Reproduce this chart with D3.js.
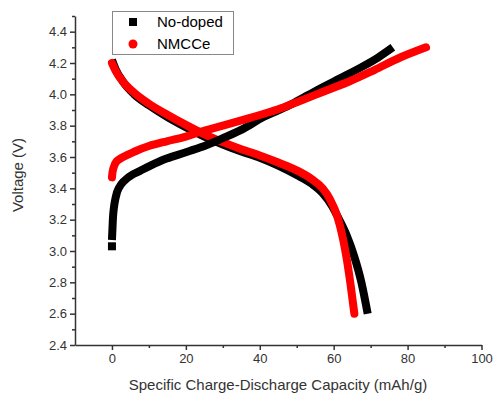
<!DOCTYPE html>
<html>
<head>
<meta charset="utf-8">
<script src="https://cdn.jsdelivr.net/npm/d3@7"></script>
<style>
body { margin: 0; background: #fff; }
text { font-family: "Liberation Sans", Arial, sans-serif; }
</style>
</head>
<body>
<svg id="chart" width="496" height="396"></svg>
<script>
// capacity (mAh/g) and voltage (V)
var noDopedChargeCap = [0, 0, 0.15, 0.4, 0.9, 1.8, 3, 5.7, 7.5, 10, 14.8, 20, 23.8, 30, 34.7, 41, 48, 50, 55, 62, 68, 72, 76];
var noDopedChargeV   = [3.03, 3.07, 3.15, 3.25, 3.33, 3.40, 3.44, 3.49, 3.51, 3.54, 3.59, 3.63, 3.66, 3.72, 3.77, 3.855, 3.93, 3.955, 4.02, 4.105, 4.18, 4.235, 4.30];
var nmcceChargeCap = [0, 0.3, 1.2, 3, 5.7, 10, 14.8, 20, 23.8, 30, 37.4, 45, 50, 57, 64.5, 71, 78, 85];
var nmcceChargeV   = [3.47, 3.52, 3.57, 3.60, 3.63, 3.67, 3.70, 3.73, 3.76, 3.80, 3.85, 3.905, 3.95, 4.015, 4.085, 4.155, 4.235, 4.30];
var noDopedDischCap = [0, 1, 3, 6, 10, 15, 20, 25, 30, 35, 40, 45, 50, 54, 57, 59.5, 61.5, 63.5, 65.5, 67.5, 69.2];
var noDopedDischV   = [4.22, 4.16, 4.08, 4.00, 3.93, 3.855, 3.79, 3.73, 3.68, 3.635, 3.595, 3.545, 3.485, 3.43, 3.37, 3.29, 3.20, 3.10, 2.97, 2.80, 2.60];
var nmcceDischCap = [0, 1, 3, 6, 10, 15, 20, 25, 30, 35, 40, 45, 50, 54, 57, 59, 61, 62.5, 63.6, 64.6, 65.6];
var nmcceDischV   = [4.20, 4.15, 4.08, 4.01, 3.94, 3.87, 3.805, 3.745, 3.695, 3.65, 3.61, 3.565, 3.515, 3.46, 3.40, 3.33, 3.22, 3.08, 2.94, 2.78, 2.60];

var xTicks = [0, 20, 40, 60, 80, 100];
var yTicks = [2.4, 2.6, 2.8, 3.0, 3.2, 3.4, 3.6, 3.8, 4.0, 4.2, 4.4];
var seriesNames = ["No-doped", "NMCCe"];
var seriesColors = ["#000000", "#ff0000"];

var svg = d3.select("#chart");

var x = d3.scaleLinear().domain([-10, 100]).range([75, 481.5]);
var y = d3.scaleLinear().domain([2.4, 4.5]).range([345, 16]);

function pts(cap, v) {
    return cap.map(function(c, i) { return [c, v[i]]; });
}

var chargeLine = d3.line()
    .x(function(d) { return x(d[0]); })
    .y(function(d) { return y(d[1]); })
    .curve(d3.curveMonotoneY);
var dischLine = d3.line()
    .x(function(d) { return x(d[0]); })
    .y(function(d) { return y(d[1]); })
    .curve(d3.curveMonotoneX);

var plot = svg.append("g");

// discharge curves (black under red)
plot.append("path")
    .attr("d", dischLine(pts(noDopedDischCap, noDopedDischV)))
    .attr("fill", "none").attr("stroke", seriesColors[0])
    .attr("stroke-width", 8).attr("stroke-linecap", "butt");
plot.append("path")
    .attr("d", dischLine(pts(nmcceDischCap, nmcceDischV)))
    .attr("fill", "none").attr("stroke", seriesColors[1])
    .attr("stroke-width", 8).attr("stroke-linecap", "round");

// charge curves
var ndc = pts(noDopedChargeCap, noDopedChargeV);
plot.append("path")
    .attr("d", chargeLine(ndc.slice(1)))
    .attr("fill", "none").attr("stroke", seriesColors[0])
    .attr("stroke-width", 8).attr("stroke-linecap", "butt");
plot.append("rect")
    .attr("x", x(ndc[0][0]) - 4).attr("y", y(ndc[0][1]) - 4)
    .attr("width", 8).attr("height", 8).attr("fill", seriesColors[0]);
plot.append("path")
    .attr("d", chargeLine(pts(nmcceChargeCap, nmcceChargeV)))
    .attr("fill", "none").attr("stroke", seriesColors[1])
    .attr("stroke-width", 8).attr("stroke-linecap", "round");

// axes
var axisColor = "#333";
svg.append("g")
    .attr("transform", "translate(0," + y(2.4) + ")")
    .call(d3.axisBottom(x).tickValues(xTicks).tickSize(5).tickSizeOuter(0).tickPadding(4).tickFormat(d3.format("d")));
svg.append("g")
    .attr("transform", "translate(0," + y(2.4) + ")")
    .call(d3.axisBottom(x).tickValues([10, 30, 50, 70, 90]).tickSize(3).tickSizeOuter(0).tickFormat(""))
    .select(".domain").remove();

svg.append("g")
    .attr("transform", "translate(" + x(-10) + ",0)")
    .call(d3.axisLeft(y).tickValues(yTicks).tickSize(5).tickSizeOuter(0).tickPadding(3).tickFormat(d3.format(".1f")));
svg.append("g")
    .attr("transform", "translate(" + x(-10) + ",0)")
    .call(d3.axisLeft(y).tickValues([2.5, 2.7, 2.9, 3.1, 3.3, 3.5, 3.7, 3.9, 4.1, 4.3, 4.5]).tickSize(3).tickSizeOuter(0).tickFormat(""))
    .select(".domain").remove();

svg.selectAll(".domain, .tick line").attr("stroke", axisColor).attr("stroke-width", 1.5);
svg.selectAll(".tick text").attr("fill", "#333").style("font-size", "13px")
    .style("font-family", "'Liberation Sans', Arial, sans-serif");

// axis titles
svg.append("text")
    .attr("x", 278).attr("y", 390)
    .attr("text-anchor", "middle")
    .attr("fill", "#333").style("font-size", "15px")
    .text("Specific Charge-Discharge Capacity (mAh/g)");
svg.append("text")
    .attr("transform", "translate(23,175) rotate(-90)")
    .attr("text-anchor", "middle")
    .attr("fill", "#333").style("font-size", "15px")
    .text("Voltage (V)");

// legend
var legend = svg.append("g");
legend.append("rect")
    .attr("x", 112.5).attr("y", 11.5).attr("width", 121).attr("height", 43)
    .attr("fill", "#fff").attr("stroke", "#888").attr("stroke-width", 1);
legend.append("rect")
    .attr("x", 129).attr("y", 18).attr("width", 8).attr("height", 8)
    .attr("fill", seriesColors[0]);
legend.append("circle")
    .attr("cx", 133).attr("cy", 44).attr("r", 4.5)
    .attr("fill", seriesColors[1]);
legend.selectAll("text.lbl")
    .data(seriesNames)
    .enter().append("text")
    .attr("class", "lbl")
    .attr("x", 157)
    .attr("y", function(d, i) { return 27 + i * 22; })
    .attr("fill", "#000").style("font-size", "15px")
    .text(function(d) { return d; });
</script>
</body>
</html>
